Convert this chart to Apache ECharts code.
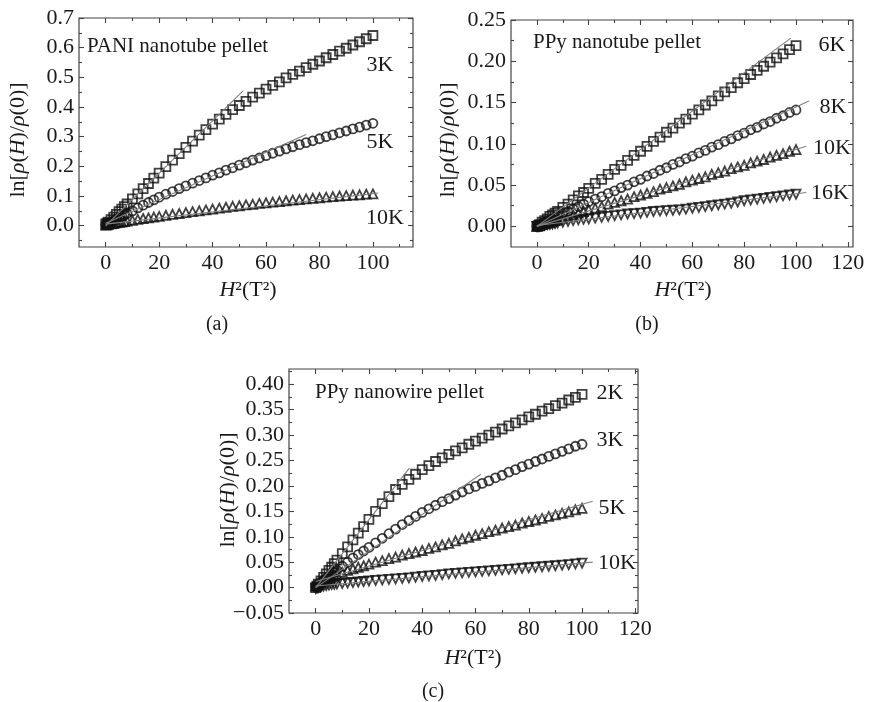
<!DOCTYPE html>
<html><head><meta charset="utf-8">
<script src="https://cdn.jsdelivr.net/npm/echarts@6/dist/echarts.min.js"></script>
<style>html,body{margin:0;padding:0;background:#fff}#c{width:870px;height:702px}</style>
</head><body><div id="c"></div>
<script>
// ---- data (H^2 in T^2, shared field grid) ----
const H2 = [0,0.5,1,2,3,4,5,6,7,8,10,12,14,16,18,20,22.5,25,27.5,30,32.5,35,37.5,40,42.5,45,47.5,50,52.5,55,57.5,60,62.5,65,67.5,70,72.5,75,77.5,80,82.5,85,87.5,90,92.5,95,97.5,100];

// (a) PANI nanotube pellet
const a3K = [0.005,0.008,0.012,0.02,0.029,0.038,0.047,0.056,0.064,0.073,0.09,0.107,0.125,0.142,0.16,0.177,0.199,0.221,0.243,0.264,0.285,0.305,0.324,0.342,0.359,0.375,0.391,0.405,0.419,0.433,0.447,0.46,0.473,0.485,0.498,0.51,0.521,0.533,0.544,0.555,0.566,0.577,0.588,0.598,0.609,0.62,0.63,0.641];
const a5K = [0.003,0.005,0.007,0.012,0.017,0.022,0.027,0.032,0.036,0.041,0.05,0.06,0.069,0.078,0.087,0.096,0.106,0.115,0.125,0.134,0.143,0.152,0.161,0.17,0.178,0.187,0.195,0.204,0.212,0.221,0.228,0.236,0.244,0.251,0.259,0.266,0.273,0.28,0.286,0.293,0.3,0.306,0.313,0.319,0.326,0.332,0.339,0.345];
const a10K = [0.002,0.003,0.004,0.006,0.007,0.009,0.011,0.012,0.014,0.015,0.018,0.021,0.024,0.026,0.029,0.031,0.035,0.038,0.041,0.044,0.047,0.05,0.053,0.056,0.059,0.062,0.065,0.067,0.07,0.072,0.075,0.077,0.079,0.081,0.084,0.086,0.088,0.09,0.092,0.094,0.096,0.098,0.1,0.101,0.103,0.104,0.106,0.107];
const aFit3K = [[0,0],[51.5,0.455]];
const aFit5K = [[0,0.008],[75,0.307]];
const aFit10K = [[0,0.005],[102,0.11]];

// (b) PPy nanotube pellet
const b6K = [0,0.001,0.002,0.005,0.007,0.009,0.012,0.014,0.016,0.018,0.023,0.027,0.032,0.037,0.041,0.046,0.052,0.057,0.063,0.069,0.074,0.08,0.086,0.091,0.097,0.103,0.108,0.114,0.119,0.125,0.13,0.136,0.141,0.147,0.152,0.158,0.163,0.168,0.174,0.179,0.184,0.189,0.194,0.199,0.204,0.209,0.214,0.219];
const b8K = [0,0.001,0.0015,0.003,0.0045,0.006,0.0075,0.009,0.0105,0.012,0.015,0.018,0.021,0.024,0.027,0.03,0.033,0.036,0.04,0.043,0.047,0.05,0.054,0.057,0.061,0.064,0.068,0.071,0.075,0.078,0.082,0.085,0.089,0.092,0.096,0.099,0.103,0.106,0.11,0.113,0.117,0.12,0.124,0.127,0.131,0.134,0.138,0.141];
const b10K = [0,0.0005,0.001,0.002,0.003,0.004,0.005,0.006,0.007,0.008,0.01,0.012,0.014,0.016,0.018,0.02,0.022,0.024,0.027,0.029,0.031,0.033,0.036,0.038,0.04,0.042,0.045,0.047,0.049,0.051,0.054,0.056,0.058,0.06,0.063,0.065,0.067,0.07,0.072,0.074,0.077,0.079,0.081,0.084,0.086,0.088,0.091,0.093];
const b16K = [0,0,0.0005,0.001,0.0015,0.002,0.0025,0.003,0.0035,0.004,0.005,0.006,0.007,0.008,0.0085,0.009,0.01,0.011,0.012,0.013,0.014,0.015,0.0155,0.016,0.017,0.018,0.0185,0.019,0.0195,0.02,0.021,0.022,0.023,0.024,0.025,0.026,0.027,0.028,0.0295,0.031,0.032,0.033,0.034,0.035,0.036,0.037,0.038,0.039];
const bFit6K = [[0,0],[98,0.228]];
const bFit8K = [[0,0],[105,0.152]];
const bFit10K = [[0,0],[104,0.097]];
const bFit16K = [[0,0.001],[104,0.041]];

// (c) PPy nanowire pellet
const c2K = [0,0.003,0.007,0.013,0.02,0.027,0.034,0.04,0.047,0.054,0.067,0.08,0.094,0.107,0.12,0.134,0.15,0.165,0.179,0.193,0.203,0.213,0.223,0.232,0.24,0.248,0.255,0.262,0.269,0.275,0.282,0.288,0.294,0.3,0.306,0.312,0.318,0.324,0.33,0.336,0.341,0.347,0.352,0.358,0.363,0.369,0.374,0.38];
const c3K = [0.002,0.004,0.006,0.01,0.014,0.018,0.022,0.026,0.03,0.034,0.042,0.05,0.058,0.065,0.072,0.079,0.088,0.097,0.106,0.115,0.124,0.132,0.14,0.148,0.155,0.162,0.169,0.175,0.182,0.188,0.194,0.199,0.205,0.21,0.216,0.221,0.227,0.232,0.238,0.243,0.248,0.253,0.258,0.263,0.268,0.273,0.278,0.282];
const c5K = [0.003,0.005,0.007,0.01,0.013,0.016,0.019,0.021,0.024,0.026,0.03,0.034,0.037,0.04,0.043,0.046,0.05,0.053,0.057,0.06,0.064,0.067,0.07,0.073,0.077,0.08,0.084,0.087,0.092,0.096,0.099,0.103,0.106,0.11,0.113,0.117,0.12,0.123,0.127,0.13,0.133,0.136,0.14,0.143,0.146,0.149,0.153,0.156];
const c10K = [-0.002,-0.001,0,0.002,0.003,0.004,0.005,0.006,0.0065,0.007,0.008,0.009,0.01,0.011,0.012,0.013,0.014,0.015,0.016,0.017,0.018,0.019,0.0205,0.022,0.023,0.024,0.0255,0.027,0.028,0.029,0.03,0.031,0.032,0.033,0.034,0.035,0.036,0.037,0.038,0.039,0.04,0.041,0.042,0.043,0.044,0.045,0.0465,0.048];
const cFit2K = [[0,0],[35.2,0.235]];
const cFit3K = [[0,0],[62,0.223]];
const cFit5K = [[0,0.012],[104,0.17]];
const cFit10K = [[0,0.003],[104,0.05]];

// tick labels
const aXTicks = [0,20,40,60,80,100];
const aYTicks = [0,0.1,0.2,0.3,0.4,0.5,0.6,0.7];
const bXTicks = [0,20,40,60,80,100,120];
const bYTicks = [0,0.05,0.1,0.15,0.2,0.25];
const cXTicks = [0,20,40,60,80,100,120];
const cYTicks = [-0.05,0,0.05,0.1,0.15,0.2,0.25,0.3,0.35,0.4];

// ---- styling / layout ----
const FONT = '"Liberation Serif", "Times New Roman", serif';
const INK = '#1a1a1a';
const FS = 22;
const grids = [
  {left:79, top:18, width:334, height:229, show:true, borderColor:'#444', borderWidth:1.2, backgroundColor:'transparent'},
  {left:511, top:20, width:342, height:227, show:true, borderColor:'#444', borderWidth:1.2, backgroundColor:'transparent'},
  {left:289, top:369, width:349, height:244, show:true, borderColor:'#444', borderWidth:1.2, backgroundColor:'transparent'}
];
const ranges = [
  {x:[-10,115], y:[-0.072,0.7], xt:aXTicks, yt:aYTicks, yd:1},
  {x:[-10,122], y:[-0.025,0.25], xt:bXTicks, yt:bYTicks, yd:2},
  {x:[-10,121], y:[-0.05,0.43], xt:cXTicks, yt:cYTicks, yd:2}
];
function minorsOf(majors, min, max){
  const step = majors[1]-majors[0], out=[];
  for(let i=-1;i<majors.length;i++){const m=+(majors[0]+(i+0.5)*step).toFixed(5); if(m>min+1e-9&&m<max-1e-9) out.push(m);}
  return out;
}
function sideAxes(gi, isX, mm, majors, fmt){
  const minors = minorsOf(majors, mm[0], mm[1]);
  const pos = isX ? ['bottom','top'] : ['left','right'];
  const mk = (p, vals, len, lab) => ({
    gridIndex:gi, type:'value', position:p, min:mm[0], max:mm[1],
    axisLine:{show:false, onZero:false}, splitLine:{show:false},
    axisTick:{show:true, inside:true, length:len, customValues:vals, lineStyle:{color:'#444', width:1.1}},
    axisLabel: lab ? {show:true, customValues:majors, formatter:fmt, margin:isX?5:5, fontFamily:FONT, fontSize:FS, color:INK} : {show:false}
  });
  return [mk(pos[0], majors, 5, true), mk(pos[0], minors, 3, false), mk(pos[1], majors, 5, false), mk(pos[1], minors, 3, false)];
}
const xAxes=[], yAxes=[];
ranges.forEach((r,gi)=>{
  xAxes.push(...sideAxes(gi, true, r.x, r.xt, v=>String(Math.round(v))));
  yAxes.push(...sideAxes(gi, false, r.y, r.yt, v=>{const s=Math.abs(v).toFixed(r.yd); return (v< -1e-9?'\u2212':'')+s;}));
});

const pairs = arr => H2.map((x,i)=>[x, arr[i]]);
const SYM = {sq:{symbol:'rect'}, ci:{symbol:'circle'}, tu:{symbol:'triangle'}, td:{symbol:'triangle', symbolRotate:180}};
function pts(gi, arr, kind){
  return Object.assign({type:'scatter', xAxisIndex:gi*4, yAxisIndex:gi*4, data:pairs(arr), symbolSize:9,
    itemStyle:{color:'rgba(255,255,255,0)', borderColor:'#111', borderWidth:1.8}, z:2, silent:true}, SYM[kind]);
}
function fit(gi, d){
  return {type:'line', xAxisIndex:gi*4, yAxisIndex:gi*4, data:d, showSymbol:false, symbol:'none',
    lineStyle:{color:'#808080', width:1.1}, z:3, silent:true};
}
const series = [
  pts(0,a3K,'sq'), pts(0,a5K,'ci'), pts(0,a10K,'tu'), fit(0,aFit3K), fit(0,aFit5K), fit(0,aFit10K),
  pts(1,b6K,'sq'), pts(1,b8K,'ci'), pts(1,b10K,'tu'), pts(1,b16K,'td'), fit(1,bFit6K), fit(1,bFit8K), fit(1,bFit10K), fit(1,bFit16K),
  pts(2,c2K,'sq'), pts(2,c3K,'ci'), pts(2,c5K,'tu'), pts(2,c10K,'td'), fit(2,cFit2K), fit(2,cFit3K), fit(2,cFit5K), fit(2,cFit10K)
];

function txt(x,y,text,opt){
  opt=opt||{};
  return {type:'text', x, y, rotation:opt.rot||0, z:10, silent:true,
    style:{text, font:(opt.size||22)+'px '+FONT, fill:INK, align:opt.align||'center', verticalAlign:'middle',
      rich:opt.rich}};
}
const richT = s => ({n:{fontFamily:FONT, fontSize:s, fill:INK}, i:{fontFamily:FONT, fontSize:s, fontStyle:'italic', fill:INK}});
const yTitle = '{n|ln[}{i|\u03c1}{n|(}{i|H}{n|)/}{i|\u03c1}{n|(0)]}';
const xTitle = '{i|H}{n|\u00b2(T\u00b2)}';
const graphics = [
  txt(87,46,'PANI nanotube pellet',{align:'left', size:21}),
  txt(533,42,'PPy nanotube pellet',{align:'left', size:21}),
  txt(315,392,'PPy nanowire pellet',{align:'left', size:21}),
  txt(380,65,'3K'), txt(380,142,'5K'), txt(385,218,'10K'),
  txt(832,45,'6K'), txt(833,107,'8K'), txt(832,148,'10K'), txt(830,193,'16K'),
  txt(610,393,'2K'), txt(610,440,'3K'), txt(612,508,'5K'), txt(617,563,'10K'),
  txt(248,290,xTitle,{rich:richT(22), size:22}),
  txt(683,290,xTitle,{rich:richT(22), size:22}),
  txt(473,658,xTitle,{rich:richT(22), size:22}),
  txt(18,140,yTitle,{rich:richT(22), size:22, rot:Math.PI/2}),
  txt(448,140,yTitle,{rich:richT(22), size:22, rot:Math.PI/2}),
  txt(228,490,yTitle,{rich:richT(22), size:22, rot:Math.PI/2}),
  txt(217,325,'(a)',{size:20}), txt(647,325,'(b)',{size:20}), txt(433,692,'(c)',{size:20})
];

const chart = echarts.init(document.getElementById('c'), null, {renderer:'canvas'});
chart.setOption({
  animation:false, backgroundColor:'#fff',
  grid:grids, xAxis:xAxes, yAxis:yAxes, series, graphic:graphics
});
</script></body></html>
